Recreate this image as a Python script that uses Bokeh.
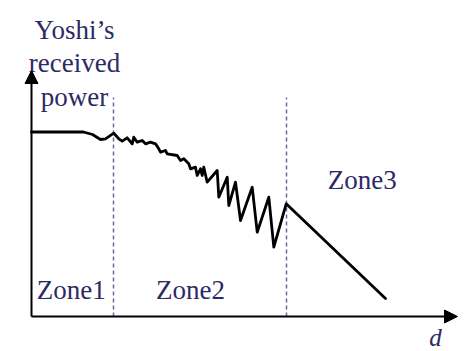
from bokeh.plotting import figure
from bokeh.models import Range1d, Arrow, NormalHead
from bokeh.core.properties import value
from bokeh.embed import file_html
from bokeh.resources import INLINE

# ---- data (units: distance d, received power) ----
curve_d = [0, 52, 61, 69, 74, 82.3, 87.3, 90.7, 95.7, 100.7, 102.3, 105.7, 110.7, 114,
           119, 124, 127.3, 129, 134, 135.7, 145.7, 149, 152.3, 157.3, 159, 164,
           165.7, 169, 170.7, 172.3, 175.7, 185.7, 187.3, 195.7, 197.3, 204, 209,
           220.7, 225.7, 237.3, 242.3, 254.7, 354]
curve_p = [184.5, 184.5, 182, 177, 177.7, 183.3, 177.7, 175.3, 178.7, 172.7, 179.3, 174.3,
           176, 172.7, 174.3, 172.7, 167.7, 164.3, 166, 162.7, 161, 156, 157.7, 152.7,
           147.7, 149.3, 141, 147.7, 141, 149.3, 134.3, 146, 119.3, 139.3, 111, 134.3,
           96, 129.3, 84.3, 119.3, 69.3, 112.7, 18]
zone_bounds = [82, 255]
zone_top = 219
zone_labels = ["Zone1", "Zone2", "Zone3"]
axis_len_d = 426
axis_len_p = 246
y_title = ["Yoshi\u2019s", "received", "power"]
x_title = "d"

TXT = "#2c2a63"
FONT = value("Liberation Serif")

p = figure(width=466, height=351, x_range=Range1d(-31, 435), y_range=Range1d(-35, 316),
           x_axis_type=None, y_axis_type=None, toolbar_location=None,
           output_backend="svg", min_border=0, outline_line_color=None,
           background_fill_color="white", border_fill_color="white")
p.grid.visible = False

# zone boundaries
for zb in zone_bounds:
    p.segment(x0=[zb], y0=[0], x1=[zb], y1=[zone_top], line_color="#6b6a98",
              line_width=1.5, line_dash="4 3")

# curve
p.line(curve_d, curve_p, line_color="black", line_width=2.8,
       line_join="round", line_cap="round")

# axes with arrows
p.add_layout(Arrow(x_start=0, y_start=0, x_end=axis_len_d, y_end=0, line_width=2,
                   line_color="black",
                   end=NormalHead(size=13, fill_color="black", line_color="black", line_width=1)))
p.add_layout(Arrow(x_start=0, y_start=0, x_end=0, y_end=axis_len_p, line_width=2,
                   line_color="black",
                   end=NormalHead(size=13, fill_color="black", line_color="black", line_width=1)))

# zone labels
p.text(x=[39.8, 159, 330.7], y=[26.7, 26.7, 136.7], text=zone_labels,
       text_font=FONT, text_font_size="27px", text_align="center",
       text_baseline="alphabetic", text_color=TXT)

# y title
p.text(x=[43, 43, 43], y=[286.7, 253.3, 219.3], text=y_title,
       text_font=FONT, text_font_size="27px", text_align="center",
       text_baseline="alphabetic", text_color=TXT)

# x title
p.text(x=[404], y=[-21], text=[x_title], text_font=FONT, text_font_size="25px",
       text_font_style="italic", text_align="center", text_baseline="alphabetic",
       text_color=TXT)

open("out.html", "w").write(file_html(p, INLINE))
